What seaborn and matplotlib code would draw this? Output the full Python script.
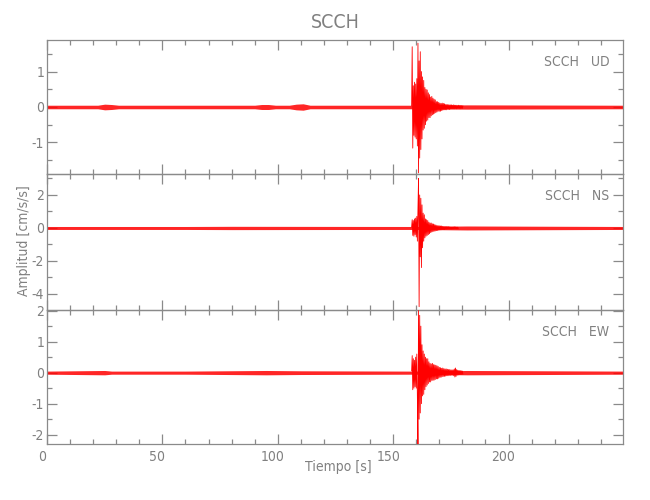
import matplotlib
matplotlib.use("Agg")
import numpy as np
import seaborn as sns
import matplotlib.pyplot as plt
from matplotlib.ticker import MultipleLocator, NullFormatter
from matplotlib.transforms import ScaledTranslation
from matplotlib import font_manager as fm

# ---------------- data ----------------
station = "SCCH"
components = ["UD", "NS", "EW"]
x_label = "Tiempo [s]"
y_label = "Amplitud [cm/s/s]"

# event window: samples every 0.25 s starting at 158 s (cm/s/s)
event_t0 = 158.0
event_dt = 0.25
ud_event = [0.03, 1.70, -1.16, 0.60, -0.80, 0.70, -0.85, 0.65,
            -0.90, 0.80, -1.10, 1.80, -1.86, 1.30, -1.44, 1.56,
            -1.20, 1.00, -0.90, 0.85, -0.65, 0.75, -0.60, 0.55,
            -0.50, 0.50, -0.40, 0.48, -0.37, 0.40, -0.30, 0.35,
            -0.30, 0.28, -0.25, 0.30, -0.22, 0.25, -0.20, 0.22,
            -0.18, 0.20, -0.16, 0.15, -0.14, 0.15, -0.12, 0.13,
            -0.12, 0.11, -0.12, 0.10, -0.10, 0.11, -0.09, 0.10,
            -0.08, 0.09, -0.08, 0.07, -0.08, 0.07, -0.06, 0.07,
            -0.06, 0.06, -0.07, 0.06, -0.05, 0.06, -0.05, 0.05,
            -0.05, 0.06, -0.05, 0.05, -0.04, 0.05, -0.05, 0.04,
            -0.04, 0.05, -0.04, 0.04, -0.05, 0.04, -0.04, 0.04,
            -0.04, 0.03]
ns_event = [0.05, 0.50, -0.45, 0.45, -0.50, 0.55, -0.40, 0.60,
            -0.55, 0.70, -0.80, 1.20, 3.00, -4.77, 2.00, -1.75,
            1.80, -2.40, 1.40, -1.20, 0.90, -0.80, 0.80, -0.60,
            0.55, -0.50, 0.50, -0.45, 0.45, -0.40, 0.35, -0.35,
            0.30, -0.28, 0.30, -0.25, 0.25, -0.22, 0.24, -0.20,
            0.20, -0.18, 0.18, -0.16, 0.15, -0.15, 0.14, -0.13,
            0.13, -0.12, 0.12, -0.11, 0.12, -0.10, 0.10, -0.10,
            0.09, -0.10, 0.09, -0.08, 0.09, -0.08, 0.08, -0.07,
            0.08, -0.07, 0.07, -0.07, 0.06, -0.07, 0.06, -0.06,
            0.06, -0.06, 0.07, -0.05, 0.06, -0.06, 0.05, -0.06,
            0.05, -0.05]
ew_event = [0.05, 0.55, -0.55, 0.45, -0.50, 0.40, -0.45, 0.50,
            -0.50, 0.60, -0.80, -2.34, 2.00, -1.50, 1.85, -1.30,
            1.50, -1.00, 0.90, -0.75, 0.70, -0.70, 0.60, -0.55,
            0.50, -0.45, 0.45, -0.40, 0.45, -0.35, 0.35, -0.30,
            0.30, -0.30, 0.28, -0.25, 0.30, -0.25, 0.26, -0.24,
            0.25, -0.22, 0.24, -0.20, 0.22, -0.20, 0.20, -0.18,
            0.17, -0.15, 0.16, -0.15, 0.14, -0.13, 0.15, -0.12,
            0.13, -0.12, 0.12, -0.11, 0.12, -0.10, 0.11, -0.10,
            0.10, -0.09, 0.10, -0.09, 0.09, -0.08, 0.09, -0.08,
            0.09, -0.10, 0.12, -0.14, 0.15, -0.12, 0.10, -0.08,
            0.08, -0.07, 0.07, -0.06, 0.07, -0.06, 0.06, -0.06,
            0.05, -0.05]

# background noise envelope (half-width, cm/s/s) over the whole record
ud_noise_t = [0, 22, 25, 28, 31, 90, 93, 96, 99, 105, 108, 111, 114, 158, 182, 250]
ud_noise = [0.05, 0.05, 0.08, 0.07, 0.05, 0.05, 0.07, 0.07, 0.05, 0.05, 0.08, 0.09, 0.05, 0.05, 0.06, 0.05]
ns_noise_t = [0, 60, 80, 158, 182, 250]
ns_noise = [0.09, 0.09, 0.10, 0.09, 0.12, 0.09]
ew_noise_t = [0, 25, 28, 60, 95, 110, 158, 182, 250]
ew_noise = [0.05, 0.07, 0.05, 0.05, 0.07, 0.06, 0.05, 0.07, 0.05]

y_limits = [(-1.89, 1.89), (-4.97, 3.27), (-2.30, 2.02)]
y_major = [1, 2, 1]
y_minor = [0.5, 1, 0.5]
x_limits = (0, 249.6)

# ---------------- style ----------------
sns.set_style("white")
plt.rcParams["font.family"] = ["DejaVu Sans"]
plt.rcParams["font.stretch"] = "condensed"
plt.rcParams["axes.unicode_minus"] = False

GRAY = "#8a8a8a"
TXT = "#808080"
RED = "#ff0000"

fig = plt.figure(figsize=(6.5, 5), dpi=100)
W, H = 650, 500
left, right = 47, 623
tops = [40, 174, 310]
bots = [174, 310, 444]

events = [ud_event, ns_event, ew_event]
noises = [(ud_noise_t, ud_noise), (ns_noise_t, ns_noise), (ew_noise_t, ew_noise)]

axes = []
for i in range(3):
    ax = fig.add_axes([left / W, 1 - bots[i] / H, (right - left) / W, (bots[i] - tops[i]) / H])
    axes.append(ax)
    nt, nv = noises[i]
    nt = np.asarray(nt, float)
    nv = np.asarray(nv, float)
    ax.fill_between(nt, -nv, nv, color=RED, alpha=0.85, lw=0, zorder=2)
    ev = np.asarray(events[i], float)
    et = event_t0 + event_dt * np.arange(len(ev))
    sns.lineplot(x=et, y=ev, ax=ax, color=RED, lw=0.6, sort=False,
                 estimator=None, zorder=3)
    ax.set_xlim(*x_limits)
    ax.set_ylim(*y_limits[i])
    ax.xaxis.set_major_locator(MultipleLocator(50))
    ax.xaxis.set_minor_locator(MultipleLocator(10))
    ax.yaxis.set_major_locator(MultipleLocator(y_major[i]))
    ax.yaxis.set_minor_locator(MultipleLocator(y_minor[i]))
    ax.tick_params(which="both", direction="in", top=True, right=True,
                   bottom=True, left=True, colors=GRAY, labelcolor=TXT,
                   width=0.9, labelsize=10)
    ax.tick_params(which="major", length=7.2)
    ax.tick_params(which="minor", length=3.6)
    ax.tick_params(axis="y", pad=2)
    ax.tick_params(axis="x", pad=4)
    for s in ax.spines.values():
        s.set_color(GRAY)
        s.set_linewidth(0.9)
        s.set_visible(True)
    ax.set_xlabel("")
    ax.set_ylabel("")
    ax.patch.set_alpha(0)
    if i < 2:
        ax.xaxis.set_major_formatter(NullFormatter())
    ax.text(0.976, 1.0, f"{station}   {components[i]}", transform=ax.transAxes
            + ScaledTranslation(0, -22 / 100, fig.dpi_scale_trans),
            ha="right", va="center", fontsize=10, color=TXT)

# shift x tick labels slightly left (as in the reference)
for lab in axes[2].get_xticklabels():
    lab.set_transform(lab.get_transform() + ScaledTranslation(-5 / 100, 0, fig.dpi_scale_trans))

fig.text(335 / W, 1 - 22.5 / H, station, ha="center", va="center", fontsize=14, color=TXT)
fig.text(338 / W, 1 - 467 / H, x_label, ha="center", va="center", fontsize=10, color=TXT)
fig.text(24 / W, 1 - 241 / H, y_label, ha="center", va="center", rotation=90,
         fontsize=10, color=TXT)

fig.savefig("out.png", dpi=100)
